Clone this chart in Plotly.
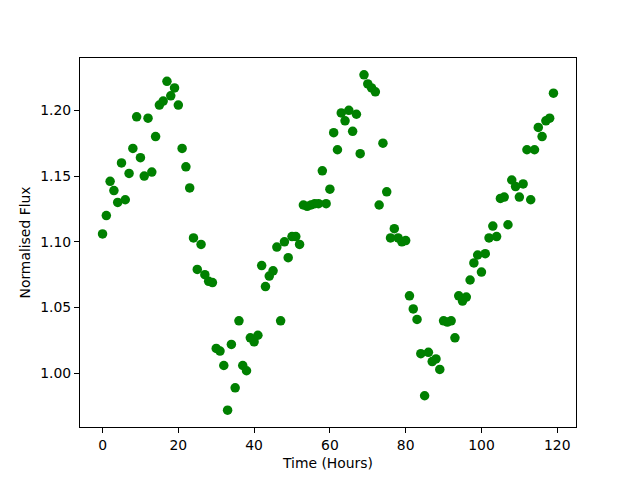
import plotly.graph_objects as go

time_hours = list(range(120))
flux = [
    1.106, 1.120, 1.146, 1.139, 1.130, 1.160, 1.132, 1.152, 1.171, 1.195,
    1.164, 1.150, 1.194, 1.153, 1.180, 1.204, 1.207, 1.222, 1.211, 1.217,
    1.204, 1.171, 1.157, 1.141, 1.103, 1.079, 1.098, 1.075, 1.070, 1.069,
    1.019, 1.017, 1.006, 0.972, 1.022, 0.989, 1.040, 1.006, 1.002, 1.027,
    1.024, 1.029, 1.082, 1.066, 1.074, 1.078, 1.096, 1.040, 1.100, 1.088,
    1.104, 1.104, 1.098, 1.128, 1.127, 1.128, 1.129, 1.129, 1.154, 1.129,
    1.140, 1.183, 1.170, 1.198, 1.192, 1.200, 1.184, 1.197, 1.167, 1.227,
    1.220, 1.217, 1.214, 1.128, 1.175, 1.138, 1.103, 1.110, 1.103, 1.100,
    1.101, 1.059, 1.049, 1.041, 1.015, 0.983, 1.016, 1.009, 1.011, 1.003,
    1.040, 1.039, 1.040, 1.027, 1.059, 1.055, 1.058, 1.071, 1.084, 1.090,
    1.077, 1.091, 1.103, 1.112, 1.104, 1.133, 1.134, 1.113, 1.147, 1.142,
    1.134, 1.144, 1.170, 1.132, 1.170, 1.187, 1.180, 1.192, 1.194, 1.213,
]
x_ticks = [0, 20, 40, 60, 80, 100, 120]
y_ticks = [1.00, 1.05, 1.10, 1.15, 1.20]

fig = go.Figure(go.Scatter(
    x=time_hours, y=flux, mode="markers",
    marker=dict(color="#008000", size=9.5, line=dict(width=0)),
))

font = dict(family="DejaVu Sans", size=13.9, color="black")
axis_common = dict(
    showgrid=False, zeroline=False, showline=True, linecolor="black",
    linewidth=1, mirror=True, ticks="outside", ticklen=5, tickwidth=1,
    tickcolor="black", tickfont=font,
)
fig.update_layout(
    width=640, height=480,
    margin=dict(l=72, r=72, t=50, b=61),
    paper_bgcolor="white", plot_bgcolor="white",
    showlegend=False,
    font=font,
    xaxis=dict(range=[-5.95, 124.95], tickvals=x_ticks,
               title=dict(text="Time (Hours)", font=font, standoff=6), **axis_common),
    yaxis=dict(range=[0.95925, 1.23975], tickvals=y_ticks, tickformat=".2f",
               title=dict(text="Normalised Flux", font=font, standoff=6), **axis_common),
)
fig.write_html("out.html")
